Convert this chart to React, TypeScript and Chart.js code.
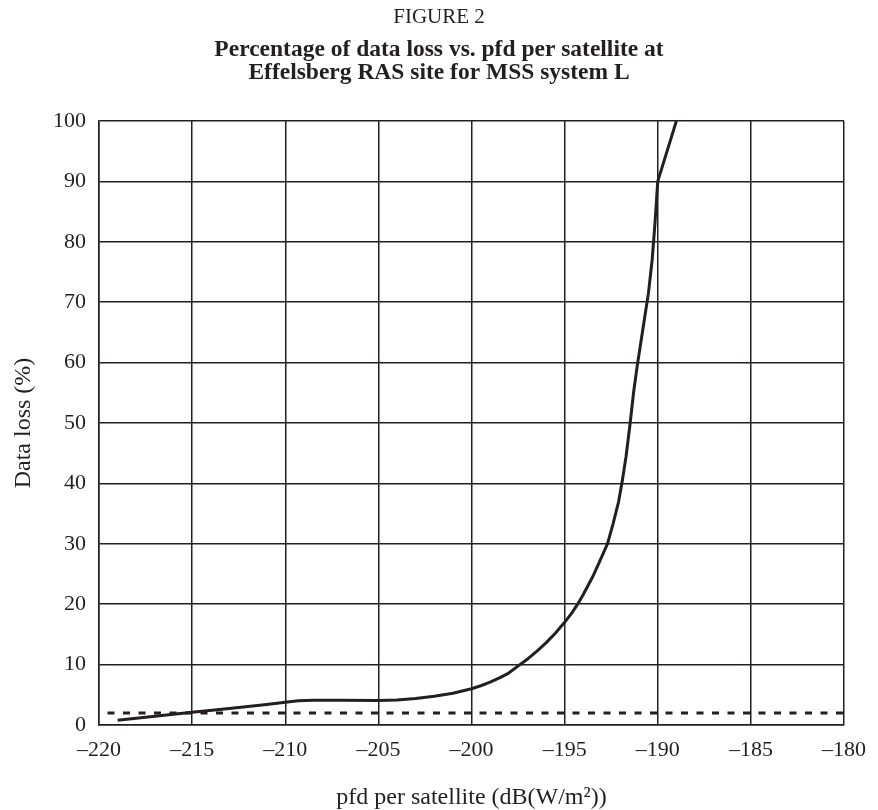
import { useEffect, useRef } from 'react';
import { Chart, registerables } from 'chart.js';

Chart.register(...registerables);

// pfd per satellite (dB(W/m²)) and matching data loss (%)
const pfdValues = [
  -219, -217, -215, -213, -211, -210, -209.3, -208.5, -207, -205, -204, -203, -202, -201,
  -200, -199.5, -199, -198.5, -198, -197.4, -197, -196.5, -196, -195.5, -195, -194.6,
  -194.3, -194, -193.5, -193.1, -192.7, -192.4, -192.1, -191.9, -191.7, -191.5, -191.3,
  -191.1, -190.9, -190.7, -190.5, -190.3, -190.15, -190, -189,
];
const lossValues = [
  0.8, 1.45, 2.1, 2.75, 3.4, 3.75, 4.0, 4.1, 4.1, 4.05, 4.15, 4.4, 4.75, 5.25,
  6.0, 6.5, 7.1, 7.8, 8.6, 10, 10.9, 12.2, 13.6, 15.2, 17, 18.6,
  20, 21.6, 24.5, 27.2, 30, 33.3, 37, 40.5, 44.5, 49.5, 55,
  59.5, 63.5, 67.5, 71.5, 77, 83, 90, 100,
];
const thresholdX = [-220, -180];
const thresholdY = [2, 2];

const figureLabel = 'FIGURE 2';
const titleLines = [
  'Percentage of data loss vs. pfd per satellite at',
  'Effelsberg RAS site for MSS system L',
];
const xTitle = 'pfd per satellite (dB(W/m²))';
const yTitle = 'Data loss (%)';

const FONT = '"Liberation Serif", "Times New Roman", serif';
const INK = '#231f20';

const textPlugin = {
  id: 'figureText',
  afterDraw(chart: any) {
    const ctx = chart.ctx as CanvasRenderingContext2D;
    const area = chart.chartArea;
    ctx.save();
    ctx.fillStyle = INK;
    ctx.textAlign = 'center';
    ctx.textBaseline = 'middle';
    ctx.font = `21px ${FONT}`;
    ctx.fillText(figureLabel, 439, 17);
    ctx.font = `bold 23.5px ${FONT}`;
    ctx.fillText(titleLines[0], 439, 50);
    ctx.fillText(titleLines[1], 439, 73);
    ctx.font = `24px ${FONT}`;
    ctx.fillText(xTitle, (area.left + area.right) / 2, 798);
    ctx.translate(24, (area.top + area.bottom) / 2);
    ctx.rotate(-Math.PI / 2);
    ctx.fillText(yTitle, 0, 0);
    ctx.restore();
  },
};

function fmt(v: number) {
  return v < 0 ? '\u2013' + Math.abs(v) : String(v);
}

export default function App() {
  const ref = useRef<HTMLCanvasElement | null>(null);
  useEffect(() => {
    if (!ref.current) return;
    const chart = new Chart(ref.current, {
      type: 'line',
      data: {
        datasets: [
          {
            data: pfdValues.map((x, i) => ({ x, y: lossValues[i] })),
            borderColor: INK,
            borderWidth: 3,
            pointRadius: 0,
            tension: 0,
            borderJoinStyle: 'round',
            fill: false,
          },
          {
            data: thresholdX.map((x, i) => ({ x, y: thresholdY[i] })),
            borderColor: INK,
            borderWidth: 3,
            borderDash: [7, 8.5],
            borderDashOffset: 7,
            pointRadius: 0,
            fill: false,
          },
        ],
      },
      options: {
        responsive: false,
        animation: false,
        layout: { padding: { left: 0, top: 121, right: 22, bottom: 0 } },
        plugins: { legend: { display: false }, tooltip: { enabled: false } },
        scales: {
          x: {
            type: 'linear',
            min: -220,
            max: -180,
            afterFit: (s: any) => { s.height = 85; },
            ticks: {
              stepSize: 5,
              padding: 12,
              color: INK,
              font: { family: FONT, size: 22 },
              callback: (v: any) => fmt(Number(v)),
              maxRotation: 0,
            },
            grid: { color: INK, lineWidth: 1.5, drawTicks: false },
            border: { color: INK, width: 1.5 },
          },
          y: {
            type: 'linear',
            min: 0,
            max: 100,
            afterFit: (s: any) => { s.width = 99; },
            ticks: {
              stepSize: 10,
              padding: 13,
              color: INK,
              font: { family: FONT, size: 22 },
              callback: (v: any) => fmt(Number(v)),
            },
            grid: { color: INK, lineWidth: 1.5, drawTicks: false },
            border: { color: INK, width: 1.5 },
          },
        },
      },
      plugins: [textPlugin],
    });
    return () => chart.destroy();
  }, []);
  return (
    <div style={{ position: 'absolute', left: 0, top: 0, width: 878, height: 810, background: '#fff' }}>
      <canvas ref={ref} width={878} height={810} style={{ display: 'block' }} />
    </div>
  );
}
